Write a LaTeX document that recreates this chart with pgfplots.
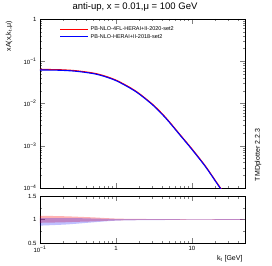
\documentclass[border=0pt]{standalone}
\usepackage{pgfplots}
\pgfplotsset{compat=1.18}
\usepackage{fontspec}
\setmainfont{Liberation Sans}
\begin{document}
\begin{tikzpicture}
\path[use as bounding box] (0pt,0pt) rectangle (272pt,265pt);
% main panel
\begin{axis}[scale only axis, width=205pt, height=169pt, at={(40pt,77pt)}, anchor=south west,
  xmode=log, ymode=log, xmin=0.1, xmax=50, ymin=1e-4, ymax=1,
  tick align=inside, xtick pos=both, ytick pos=both,
  major tick length=5pt, minor tick length=2.5pt,
  axis line style={line width=0.6pt},
  tick label style={font=\fontsize{6}{7}\selectfont},
  xtick={0.1,1,10},
  minor xtick={0.2,0.3,0.4,0.5,0.6,0.7,0.8,0.9,2,3,4,5,6,7,8,9,20,30,40,50},
  xticklabels={},
  ytick={1e-4,1e-3,1e-2,1e-1,1},
  yticklabels={10\textsuperscript{−4},10\textsuperscript{−3},10\textsuperscript{−2},10\textsuperscript{−1},1},
  minor ytick={2e-4,3e-4,4e-4,5e-4,6e-4,7e-4,8e-4,9e-4,2e-3,3e-3,4e-3,5e-3,6e-3,7e-3,8e-3,9e-3,2e-2,3e-2,4e-2,5e-2,6e-2,7e-2,8e-2,9e-2,0.2,0.3,0.4,0.5,0.6,0.7,0.8,0.9},
  legend style={draw=none, fill=none, at={(0.09,0.975)}, anchor=north west,
    font=\fontsize{5.5}{6}\selectfont, row sep=-1.5pt, inner sep=1pt},
  legend cell align=left,
  legend image code/.code={\draw[#1] (0pt,0pt) -- (28pt,0pt);},
]
\addplot[red, line width=1.1pt, smooth] coordinates {
(0.1,0.0640) (0.15,0.0635) (0.2,0.0626) (0.3,0.0596) (0.5,0.0526) (0.7,0.0452)
(1.0,0.0358) (1.5,0.0244) (2.0,0.0175) (3.0,0.00974) (4.0,0.00588) (5.0,0.00377)
(7.0,0.00182) (10,8.45e-4) (15,3.33e-4) (20,1.57e-4) (23,1.09e-4) (26,8.0e-5)};
\addlegendentry{PB-NLO-4FL-HERAI+II-2020-set2}
\addplot[blue, line width=1.1pt, smooth] coordinates {
(0.1,0.0622) (0.15,0.0617) (0.2,0.0608) (0.3,0.0579) (0.5,0.0511) (0.7,0.0439)
(1.0,0.0348) (1.5,0.0237) (2.0,0.0170) (3.0,0.00946) (4.0,0.00571) (5.0,0.00366)
(7.0,0.00177) (10,8.2e-4) (15,3.24e-4) (20,1.53e-4) (23,1.06e-4) (26,7.8e-5)};
\addlegendentry{PB-NLO-HERAI+II-2018-set2}
\end{axis}
% ratio panel
\begin{axis}[scale only axis, width=205pt, height=47pt, at={(40pt,22pt)}, anchor=south west,
  xmode=log, xmin=0.1, xmax=50, ymin=0.5, ymax=1.5,
  tick align=inside, xtick pos=both, ytick pos=both,
  major tick length=5pt, minor tick length=2.5pt,
  axis line style={line width=0.6pt},
  tick label style={font=\fontsize{6}{7}\selectfont},
  xtick={0.1,1,10},
  minor xtick={0.2,0.3,0.4,0.5,0.6,0.7,0.8,0.9,2,3,4,5,6,7,8,9,20,30,40,50},
  xticklabels={10\textsuperscript{−1},1,10},
  ytick={0.5,1,1.5}, yticklabels={0.5,1,1.5},
  minor ytick={0.75,1.25},
]
\addplot[fill=red, fill opacity=0.3, draw=none, smooth] coordinates {
(0.1,1.08) (0.2,1.07) (0.3,1.06) (0.5,1.045) (1,1.02) (2,1.012) (5,1.008) (10,1.006) (50,1.005)
(50,0.995) (10,0.995) (5,0.993) (2,0.99) (1,0.98) (0.5,0.96) (0.3,0.95) (0.2,0.94) (0.1,0.93)};
\addplot[fill=blue, fill opacity=0.25, draw=none, smooth] coordinates {
(0.1,1.03) (0.2,1.03) (0.3,1.03) (0.5,1.02) (1,1.01) (2,1.008) (5,1.006) (10,1.005) (50,1.005)
(50,0.995) (10,0.993) (5,0.99) (2,0.985) (1,0.975) (0.5,0.94) (0.3,0.91) (0.2,0.89) (0.1,0.87)};
\end{axis}
% texts
\node[font=\fontsize{9.5}{11}\selectfont] at (135pt,258pt) {anti-up, x = 0.01,μ = 100 GeV};
\node[rotate=90, anchor=east, font=\fontsize{7}{8}\selectfont] at (9pt,247pt) {xA(x,k\textsubscript{t},μ)};
\node[anchor=east, font=\fontsize{7}{8}\selectfont] at (246pt,6pt) {k\textsubscript{t} [GeV]};
\node[rotate=90, font=\fontsize{7}{8}\selectfont] at (258pt,110pt) {TMDplotter 2.2.3};
\end{tikzpicture}
\end{document}
